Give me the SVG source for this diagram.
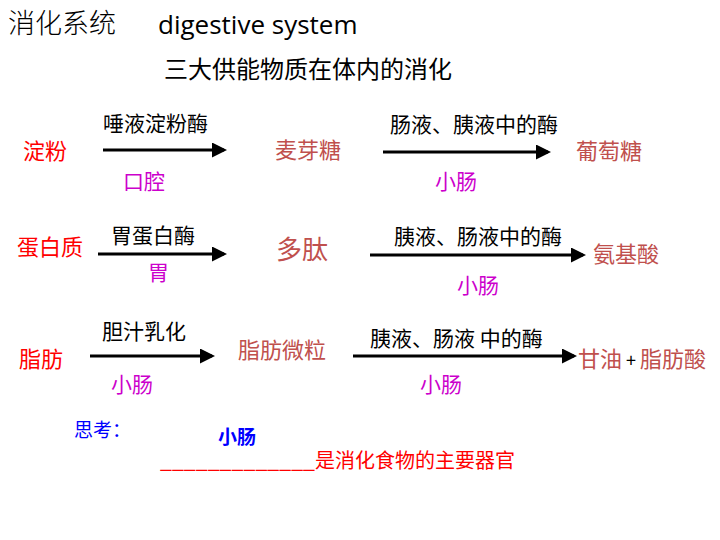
<svg xmlns="http://www.w3.org/2000/svg" width="720" height="540" viewBox="0 0 720 540">
<style>
text{font-family:"Noto Sans CJK SC","Liberation Sans",sans-serif}
.en{font-family:"Open Sans","Noto Sans",sans-serif}
.k{fill:#000;font-size:21px}
.r{fill:#FF0000;font-size:22px}
.p{fill:#C0504D;font-size:22px}
.m{fill:#CC00CC;font-size:21px}
.c{stroke:#000;stroke-width:3;fill:none;marker-end:url(#ah)}
</style>
<defs><marker id="ah" markerWidth="5" markerHeight="5" refX="4" refY="2.5" orient="auto" markerUnits="strokeWidth"><path d="M0,0L5,2.5L0,5Z" fill="#000"/></marker></defs>
<rect width="720" height="540" fill="#fff"/>
<g id="title"><text x="8" y="33" style="font-size:27px;fill:#000;font-weight:300">消化系统</text><text x="158" y="34" class="en" style="font-size:26px;fill:#000">digestive system</text>
<text x="164" y="78" style="font-size:24px;fill:#000">三大供能物质在体内的消化</text></g>
<g id="connectors">
<line x1="103" y1="150" x2="224" y2="150" class="c"/>
<line x1="383" y1="152" x2="548" y2="152" class="c"/>
<line x1="98" y1="254" x2="224" y2="254" class="c"/>
<line x1="370" y1="255" x2="583" y2="255" class="c"/>
<line x1="90" y1="356" x2="212" y2="356" class="c"/>
<line x1="353" y1="356" x2="574" y2="356" class="c"/>
</g>
<g id="starch"><text x="23" y="159" class="r">淀粉</text></g>
<g id="e1"><text x="103" y="131" class="k">唾液淀粉酶</text><text x="123" y="189" class="m">口腔</text></g>
<g id="maltose"><text x="275" y="158" class="p">麦芽糖</text></g>
<g id="e2"><text x="390" y="132" class="k">肠液、胰液中的酶</text><text x="435" y="189" class="m">小肠</text></g>
<g id="glucose"><text x="576" y="159" class="p">葡萄糖</text></g>
<g id="protein"><text x="17" y="255" class="r">蛋白质</text></g>
<g id="e3"><text x="111" y="243" class="k">胃蛋白酶</text><text x="148" y="280" class="m">胃</text></g>
<g id="peptide"><text x="276" y="259" style="font-size:26px;fill:#C0504D">多肽</text></g>
<g id="e4"><text x="394" y="244" class="k">胰液、肠液中的酶</text><text x="457" y="293" class="m">小肠</text></g>
<g id="amino"><text x="593" y="262" class="p">氨基酸</text></g>
<g id="fat"><text x="19" y="367" class="r">脂肪</text></g>
<g id="e5"><text x="102" y="339" class="k">胆汁乳化</text><text x="111" y="392" class="m">小肠</text></g>
<g id="micro"><text x="238" y="358" class="p">脂肪微粒</text></g>
<g id="e6"><text x="370" y="346" class="k">胰液、肠液 中的酶</text><text x="420" y="392" class="m">小肠</text></g>
<g id="glycerol"><text x="578" y="367" class="p">甘油<tspan fill="#000" font-size="18"> + </tspan>脂肪酸</text></g>
<g id="think"><text x="74" y="437" style="font-size:19px;fill:#0000FF">思考：</text>
<text x="218" y="444" style="font-size:19px;fill:#0000FF;font-weight:bold">小肠</text>
<text x="160" y="468" style="font-size:20px;fill:#FF0000"><tspan textLength="155" lengthAdjust="spacingAndGlyphs">_____________</tspan>是消化食物的主要器官</text></g>
</svg>
